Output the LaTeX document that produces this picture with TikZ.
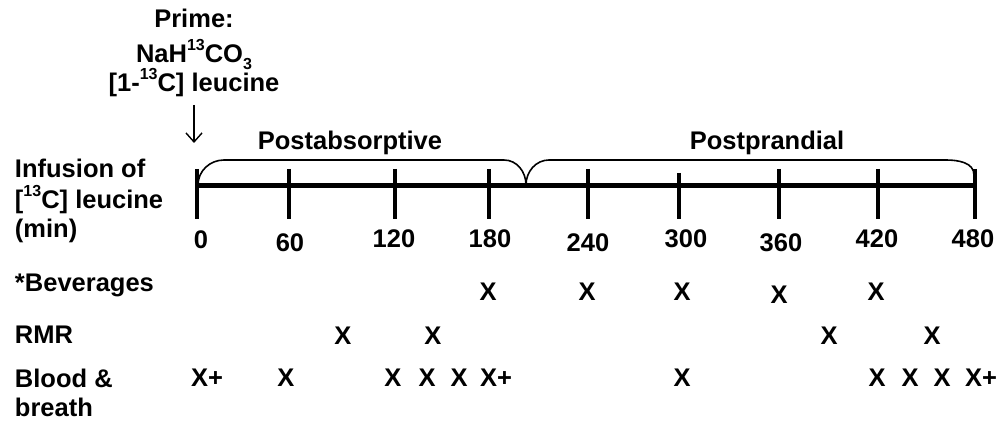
\documentclass[tikz,border=0pt]{standalone}
\usepackage{fontspec}
\setmainfont{Liberation Sans}
\usetikzlibrary{arrows.meta}
\newcommand{\sups}[1]{\raisebox{0.5em}{\fontsize{16}{16}\selectfont #1}}
\newcommand{\subs}[1]{\raisebox{-0.25em}{\fontsize{16}{16}\selectfont #1}}
\begin{document}
\begin{tikzpicture}[x=1pt,y=-1pt,
  txt/.style={font=\fontsize{25.5}{30}\selectfont\bfseries, inner sep=0pt, outer sep=0pt},
  lab/.style={txt, anchor=base west},
  num/.style={txt, anchor=center},
  xm/.style={txt, anchor=center},
  axisline/.style={line width=5pt},
  tickline/.style={line width=4.5pt},
  brace/.style={line width=1.6pt},
  ptr/.style={line width=1.4pt, -{Straight Barb[length=9pt,width=16pt,line width=1.4pt]}}]
\useasboundingbox (0,0) rectangle (1002,422);

% Prime label
\node[txt, anchor=base] (p1) at (194,28) {Prime:};
\node[txt, anchor=base] (p2) at (194,63) {NaH\sups{13}CO\subs{3}};
\node[txt, anchor=base] (p3) at (194,92) {[1-\sups{13}C] leucine};
\coordinate (arrtop) at (194,105);
\coordinate (arrbot) at (194,143);
\draw[ptr] (arrtop) -- (arrbot);

% left labels
\node[lab] (inf1) at (15,178) {Infusion of};
\node[lab] (inf2) at (15,209) {[\sups{13}C] leucine};
\node[lab] (inf3) at (15,238) {(min)};
\node[lab] (bev) at (15,292) {*Beverages};
\node[lab] (rmr) at (15,344) {RMR};
\node[lab] (bl1) at (15,387) {Blood \&};
\node[lab] (bl2) at (15,416) {breath};

% axis
\coordinate (a0) at (197,186);
\coordinate (a480) at (975,186);
\draw[axisline] (a0) -- (a480);
\foreach \x/\t in {197/169,289/169,395/169,489/169,588/169,679/173,779/169,878/169,975/169}{
  \draw[tickline] (\x,\t) -- (\x,219);
}

% tick labels
\node[num] (n0) at (201,240) {0};
\node[num] (n60) at (290,242.5) {60};
\node[num] (n120) at (394,238.5) {120};
\node[num] (n180) at (490,238.5) {180};
\node[num] (n240) at (588,242.5) {240};
\node[num] (n300) at (686,239) {300};
\node[num] (n360) at (781,242.5) {360};
\node[num] (n420) at (877,239) {420};
\node[num] (n480) at (973,238.5) {480};

% braces
\coordinate (b1s) at (198,185);
\coordinate (b1e) at (526,185);
\coordinate (b2e) at (974,175);
\draw[brace] (b1s) to[out=90,in=180] (224,160) -- (504,160) to[out=0,in=90] (b1e);
\draw[brace] (b1e) to[out=90,in=180] (549,160) -- (946,160) to[out=0,in=90] (b2e);
\node[txt, anchor=base] (post1) at (350,149.5) {Postabsorptive};
\node[txt, anchor=base] (post2) at (767,149.5) {Postprandial};

% beverages row
\node[xm] (bx1) at (488,292) {X};
\node[xm] (bx2) at (587,292) {X};
\node[xm] (bx3) at (682,292) {X};
\node[xm] (bx4) at (779,295) {X};
\node[xm] (bx5) at (876,292) {X};

% RMR row
\node[xm] (rx1) at (343,336) {X};
\node[xm] (rx2) at (433,336) {X};
\node[xm] (rx3) at (829,336) {X};
\node[xm] (rx4) at (932,336) {X};

% blood row
\node[xm] (cx1) at (207,378) {X+};
\node[xm] (cx2) at (286,378) {X};
\node[xm] (cx3) at (393,378) {X};
\node[xm] (cx4) at (427,378) {X};
\node[xm] (cx5) at (459,378) {X};
\node[xm] (cx6) at (496,378) {X+};
\node[xm] (cx7) at (682,378) {X};
\node[xm] (cx8) at (877,378) {X};
\node[xm] (cx9) at (910,378) {X};
\node[xm] (cx10) at (942,378) {X};
\node[xm] (cx11) at (981,378) {X+};
\end{tikzpicture}
\end{document}
